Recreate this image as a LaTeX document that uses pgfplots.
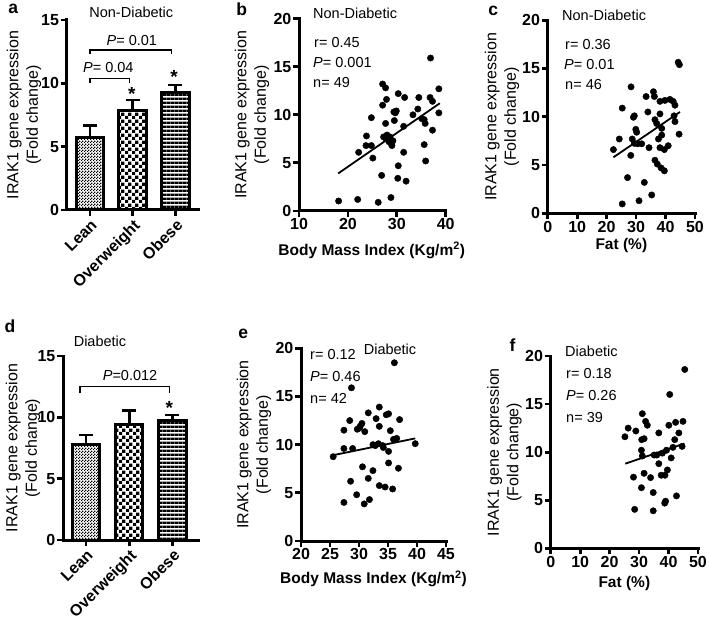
\documentclass[border=0pt]{standalone}
\usepackage{fontspec}
\setmainfont{Liberation Sans}
\usepackage{pgfplots}
\pgfplotsset{compat=1.18}
\usetikzlibrary{patterns}

\pgfdeclarepatternformonly{finecheck}{\pgfqpoint{0pt}{0pt}}{\pgfqpoint{3pt}{3pt}}{\pgfqpoint{3pt}{3pt}}{%
  \pgfpathrectangle{\pgfqpoint{0pt}{0pt}}{\pgfqpoint{1.5pt}{1.5pt}}%
  \pgfpathrectangle{\pgfqpoint{1.5pt}{1.5pt}}{\pgfqpoint{1.5pt}{1.5pt}}%
  \pgfusepath{fill}}
\pgfdeclarepatternformonly{bigcheck}{\pgfqpoint{0pt}{0pt}}{\pgfqpoint{6.6pt}{6.6pt}}{\pgfqpoint{6.6pt}{6.6pt}}{%
  \pgfpathrectangle{\pgfqpoint{0pt}{0pt}}{\pgfqpoint{3.3pt}{3.3pt}}%
  \pgfpathrectangle{\pgfqpoint{3.3pt}{3.3pt}}{\pgfqpoint{3.3pt}{3.3pt}}%
  \pgfusepath{fill}}
\pgfdeclarepatternformonly{hstripes}{\pgfqpoint{0pt}{0pt}}{\pgfqpoint{4.2pt}{4.2pt}}{\pgfqpoint{4.2pt}{4.2pt}}{%
  \pgfpathrectangle{\pgfqpoint{0pt}{0pt}}{\pgfqpoint{4.2pt}{2.9pt}}%
  \pgfusepath{fill}}

\newcommand{\tickfont}{\fontsize{16}{18}\selectfont\bfseries}
\newcommand{\catfont}{\fontsize{16}{18}\selectfont\bfseries}
\newcommand{\labfont}{\fontsize{16}{19.5}\selectfont}
\newcommand{\xlabfont}{\fontsize{15.5}{18}\selectfont\bfseries}
\newcommand{\annfont}{\fontsize{14.5}{16}\selectfont}
\newcommand{\starfont}{\fontsize{19}{20}\selectfont\bfseries}
\newcommand{\letfont}{\fontsize{17.5}{19}\selectfont\bfseries}

\pgfplotsset{
  panel/.style={
    scale only axis,
    anchor=south west,
    axis lines=left,
    axis line style={-, line width=3pt, line cap=rect},
    tick style={line width=2.8pt, black},
    major tick length=6pt,
    tick align=outside,
    ticklabel style={font=\tickfont},
    /pgf/number format/assume math mode=true,
    yticklabel style={inner sep=1.5pt},
    xticklabel style={inner sep=1.5pt},
    ylabel style={font=\labfont, align=center, anchor=center},
    xlabel style={font=\xlabfont, anchor=center},
    ylabel={IRAK1 gene expression\\(Fold change)},
    clip=false,
  },
  barpanel/.style={
    panel,
    ymin=0, ymax=15, ytick={0,5,10,15},
    xtick={0,1,2}, xticklabels={Lean,Overweight,Obese},
    xticklabel style={rotate=45, anchor=north east, font=\catfont},
  },
  bar/.style={
    ybar, bar width=27.5pt, bar shift=0pt, draw=black, line width=3pt, pattern=#1,
    error bars/.cd, y dir=plus, y explicit,
    error bar style={line width=2.8pt, black, solid},
    error mark options={rotate=90, mark size=7pt, line width=2.8pt, black, solid},
  },
  scat/.style={only marks, mark=*, mark size=3.2pt, black},
  fit/.style={no marks, black, line width=1.8pt},
}

\begin{document}
\begin{tikzpicture}
\path[use as bounding box] (0,0) rectangle (709pt,632pt);

% ---------------- panel a ----------------
\begin{axis}[barpanel, at={(66.7pt,422pt)}, width=131.3pt, height=190pt,
  xmin=-0.546, xmax=2.53,
  ylabel style={at={(axis description cs:-0.325,0.5)}}]
\addplot[bar=finecheck] coordinates {(0,5.71) +- (0,0.95)};
\addplot[bar=bigcheck] coordinates {(1,7.89) +- (0,0.79)};
\addplot[bar=hstripes] coordinates {(2,9.26) +- (0,0.61)};
\draw[line width=1.5pt] (axis cs:0,10.05) -- (axis cs:0,10.39) -- (axis cs:0.92,10.39) -- (axis cs:0.92,10.05);
\draw[line width=1.5pt] (axis cs:0,12.3) -- (axis cs:0,12.63) -- (axis cs:1.91,12.63) -- (axis cs:1.91,12.3);
\node[font=\annfont] at (axis cs:0.43,11.26) {\textit{P}= 0.04};
\node[font=\annfont] at (axis cs:0.98,13.42) {\textit{P}= 0.01};
\node[font=\starfont, anchor=north, inner sep=0pt] at (axis cs:0.98,9.72) {*};
\node[font=\starfont, anchor=north, inner sep=0pt] at (axis cs:1.97,11.04) {*};
\end{axis}

% ---------------- panel b ----------------
\begin{axis}[panel, at={(299pt,421pt)}, width=146.7pt, height=192.4pt,
  xmin=10, xmax=40, ymin=0, ymax=20, xtick={10,20,30,40}, ytick={0,5,10,15,20},
  xlabel={Body Mass Index (Kg/m\textsuperscript{2})},
  xlabel style={at={(axis description cs:0.496,-0.205)}},
  ylabel style={at={(axis description cs:-0.32,0.5)}}]
\addplot[scat] table {
18.1 1.04
22.0 1.2
26.2 0.9
28.8 1.4
26.9 3.7
30.3 4.7
30.2 3.4
31.9 3.1
31.4 6.1
35.9 5.2
35.6 6.9
25.1 5.5
22.2 6.1
23.7 6.8
24.8 6.8
23.8 7.8
24.8 9.7
27.1 13.2
27.7 12.8
27.9 11.6
27.1 11.0
27.7 9.1
27.3 7.7
28.0 7.9
28.6 7.7
29.2 7.3
28.9 7.0
29.5 9.4
29.4 10.3
29.9 10.4
29.7 10.2
30.3 12.2
31.6 11.8
31.4 8.8
33.3 10.0
34.3 10.6
34.5 11.8
35.1 9.6
35.6 9.5
35.8 9.1
36.9 15.9
36.8 11.8
37.3 11.4
37.3 8.4
38.6 12.7
38.6 10.2
28.4 7.2
27.8 7.5
29.0 6.8
};
\addplot[fit] coordinates {(18.0,3.9) (38.8,11.2)};
\end{axis}

% ---------------- panel c ----------------
\begin{axis}[panel, at={(547.7pt,418.7pt)}, width=147.3pt, height=193pt,
  xmin=0, xmax=50, ymin=0, ymax=20, xtick={0,10,20,30,40,50}, ytick={0,5,10,15,20},
  xlabel={Fat (\%)},
  xlabel style={at={(axis description cs:0.5,-0.166)}},
  ylabel style={at={(axis description cs:-0.311,0.5)}}]
\addplot[scat] table {
25.3 0.97
31.0 1.3
35.3 1.9
32.8 3.2
27.1 3.7
22.3 6.6
24.3 7.7
25.3 10.9
28.3 13.1
28.2 6.0
28.7 7.7
29.1 9.95
29.4 10.1
29.9 8.7
29.4 7.25
30.5 7.2
31.9 7.2
33.4 12.1
34.0 10.5
34.4 6.8
35.9 12.6
36.2 12.1
36.4 9.7
37.0 9.3
38.1 10.3
37.6 7.7
38.7 8.1
38.1 6.8
36.4 5.5
37.2 5.1
38.5 4.7
39.6 4.4
39.6 6.6
40.9 7.0
38.1 11.6
39.8 11.7
41.5 11.8
42.6 11.6
43.2 11.2
43.2 9.5
42.9 10.1
44.3 15.65
44.7 15.4
44.6 8.2
38.7 8.8
30.2 8.4
};
\addplot[fit] coordinates {(22.3,5.8) (44.9,10.5)};
\end{axis}

% ---------------- panel d ----------------
\begin{axis}[barpanel, at={(63pt,92pt)}, width=135pt, height=184pt,
  xmin=-0.53, xmax=2.59,
  ylabel style={at={(axis description cs:-0.296,0.5)}}]
\addplot[bar=finecheck] coordinates {(0,7.8) +- (0,0.76)};
\addplot[bar=bigcheck] coordinates {(1,9.45) +- (0,1.12)};
\addplot[bar=hstripes] coordinates {(2,9.73) +- (0,0.46)};
\draw[line width=1.5pt] (axis cs:-0.14,11.95) -- (axis cs:-0.14,12.5) -- (axis cs:1.93,12.5) -- (axis cs:1.93,11.95);
\node[font=\annfont] at (axis cs:1.02,13.37) {\textit{P}=0.012};
\node[font=\starfont, anchor=north, inner sep=0pt] at (axis cs:1.93,11.34) {*};
\end{axis}

% ---------------- panel e ----------------
\begin{axis}[panel, at={(301pt,91pt)}, width=145pt, height=192.7pt,
  xmin=20, xmax=45, ymin=0, ymax=20, xtick={20,25,30,35,40,45}, ytick={0,5,10,15,20},
  xlabel={Body Mass Index (Kg/m\textsuperscript{2})},
  xlabel style={at={(axis description cs:0.5,-0.198)}},
  ylabel style={at={(axis description cs:-0.325,0.5)}}]
\addplot[scat] table {
25.55 8.75
27.4 9.6
27.4 11.5
28.4 12.5
28.7 15.9
28.9 9.6
28.55 6.2
27.4 4.0
29.6 4.8
29.7 11.6
30.2 11.9
30.5 12.2
30.6 7.7
30.9 3.85
31.0 11.35
31.6 13.3
31.6 6.5
31.8 4.3
32.4 7.3
32.95 12.7
32.8 9.9
33.35 10.1
33.5 13.9
33.5 11.9
33.5 5.75
34.1 9.9
34.5 5.6
34.7 13.1
35.1 13.2
35.1 9.3
35.1 8.1
35.4 11.45
35.8 5.4
35.95 10.55
36.5 10.65
36.1 18.5
37.0 12.6
36.8 7.55
39.7 10.1
32.4 10.0
34.2 9.7
30.0 11.7
};
\addplot[fit] coordinates {(25.5,8.9) (39.7,10.65)};
\end{axis}

% ---------------- panel f ----------------
\begin{axis}[panel, at={(550.7pt,83.7pt)}, width=147.3pt, height=192.3pt,
  xmin=0, xmax=50, ymin=0, ymax=20, xtick={0,10,20,30,40,50}, ytick={0,5,10,15,20},
  xlabel={Fat (\%)},
  xlabel style={at={(axis description cs:0.5,-0.181)}},
  ylabel style={at={(axis description cs:-0.313,0.5)}}]
\addplot[scat] table {
25.2 11.6
26.3 12.5
28.9 12.2
28.1 7.4
28.5 4.05
30.8 6.3
30.9 11.3
31.1 14.0
31.7 11.4
30.8 10.2
31.1 9.6
31.7 7.8
32.2 13.2
32.8 12.8
33.9 7.35
34.8 5.8
34.8 3.9
35.1 9.7
36.7 12.0
36.7 8.8
37.5 7.6
37.9 9.9
38.8 7.6
38.7 4.7
39.0 4.9
39.6 8.15
39.3 10.2
40.1 12.8
40.4 16.0
40.9 9.4
41.5 10.5
42.1 11.3
42.4 13.1
42.7 5.45
43.5 12.0
44.9 13.2
45.5 18.6
44.6 10.6
36.0 9.7
};
\addplot[fit] coordinates {(25.3,8.8) (45.4,10.9)};
\end{axis}

% ---------------- free text ----------------
\node[font=\letfont] at (13.3pt,623.3pt) {a};
\node[font=\letfont] at (241.7pt,622.8pt) {b};
\node[font=\letfont] at (493.3pt,621pt) {c};
\node[font=\letfont] at (10pt,306.2pt) {d};
\node[font=\letfont] at (243.3pt,298pt) {e};
\node[font=\letfont] at (512.5pt,287pt) {f};

\node[font=\annfont] at (131.3pt,620pt) {Non-Diabetic};
\node[font=\annfont] at (100pt,290.3pt) {Diabetic};

\node[font=\annfont, anchor=west, inner sep=0pt] at (313pt,619pt) {Non-Diabetic};
\node[font=\annfont, anchor=west, inner sep=0pt] at (314pt,589pt) {r= 0.45};
\node[font=\annfont, anchor=west, inner sep=0pt] at (313pt,569pt) {\textit{P}= 0.001};
\node[font=\annfont, anchor=west, inner sep=0pt] at (313pt,549pt) {n= 49};

\node[font=\annfont, anchor=west, inner sep=0pt] at (562pt,617pt) {Non-Diabetic};
\node[font=\annfont, anchor=west, inner sep=0pt] at (565pt,587pt) {r= 0.36};
\node[font=\annfont, anchor=west, inner sep=0pt] at (564pt,567pt) {\textit{P}= 0.01};
\node[font=\annfont, anchor=west, inner sep=0pt] at (565pt,547pt) {n= 46};

\node[font=\annfont] at (390pt,282.8pt) {Diabetic};
\node[font=\annfont, anchor=west, inner sep=0pt] at (310pt,277pt) {r= 0.12};
\node[font=\annfont, anchor=west, inner sep=0pt] at (310pt,255.3pt) {\textit{P}= 0.46};
\node[font=\annfont, anchor=west, inner sep=0pt] at (310pt,233.7pt) {n= 42};

\node[font=\annfont, anchor=west, inner sep=0pt] at (565pt,280.3pt) {Diabetic};
\node[font=\annfont, anchor=west, inner sep=0pt] at (566pt,258.7pt) {r= 0.18};
\node[font=\annfont, anchor=west, inner sep=0pt] at (566pt,236pt) {\textit{P}= 0.26};
\node[font=\annfont, anchor=west, inner sep=0pt] at (566pt,214.7pt) {n= 39};
\end{tikzpicture}
\end{document}
